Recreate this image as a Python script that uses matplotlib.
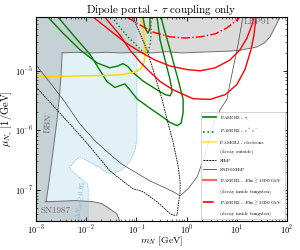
import numpy as np
import matplotlib
matplotlib.use('Agg')
import matplotlib.pyplot as plt
from matplotlib.lines import Line2D

plt.rcParams['font.family'] = 'serif'
plt.rcParams['font.serif'] = ['cmr10']
plt.rcParams['mathtext.fontset'] = 'cm'
plt.rcParams['axes.formatter.use_mathtext'] = True
plt.rcParams['axes.unicode_minus'] = False

# all contours as log10(m_N / GeV), log10(mu / GeV^-1)
lep_lx = [-3.0, -2.48, -2.2, -1.9, -1.6, -1.3, -1.0, -0.7, -0.4, -0.1, 0.2, 0.5, 0.86, 1.1, 1.4, 1.55, 1.66, 1.8, 1.85]
lep_ly = [-4.70, -4.70, -4.69, -4.70, -4.69, -4.70, -4.69, -4.70, -4.68, -4.70, -4.69, -4.68, -4.67, -4.65, -4.60, -4.53, -4.43, -4.20, -4.10]

bbn_lx = [-2.48, -2.50, -2.54, -2.58, -2.68, -2.76, -2.80]
bbn_ly = [-4.70, -5.07, -5.48, -5.82, -6.48, -6.98, -7.20]

sn_lx = [-2.82, -2.5, -2.2, -1.86, -1.69, -1.53, -1.39, -1.33]
sn_ly = [-7.20, -7.19, -7.18, -7.20, -7.23, -7.32, -7.40, -7.53]

neff_lx = [-0.99, -0.99, -1.03, -1.13, -1.27, -1.43, -1.57, -1.78, -1.96, -2.12, -2.18, -2.34, -2.22, -2.12, -1.98, -1.96, -1.96]
neff_ly = [-4.70, -6.15, -6.35, -6.52, -6.65, -6.72, -6.72, -6.60, -6.52, -6.45, -6.47, -6.63, -6.73, -6.80, -6.90, -6.98, -7.60]

# FASER2 - gamma (two contours)
ga_lx = [-2.76, -2.46, -2.12, -1.78, -1.53, -1.37, -1.27, -1.17, -1.07, -0.87, -0.63, -0.43, -0.33, -0.29, -0.33, -0.43, -0.53, -0.59]
ga_ly = [-4.10, -4.37, -4.65, -4.87, -4.95, -4.92, -4.88, -4.93, -5.03, -5.17, -5.30, -5.40, -5.42, -5.35, -5.15, -4.82, -4.48, -4.10]
gb_lx = [-2.56, -2.26, -1.92, -1.59, -1.43, -1.33, -1.23, -1.13, -0.99, -0.73, -0.47, -0.33, -0.19, -0.11, -0.07, -0.07, -0.17, -0.33, -0.47, -0.51]
gb_ly = [-4.10, -4.40, -4.73, -5.18, -5.28, -5.25, -5.22, -5.32, -5.47, -5.63, -5.78, -5.87, -5.92, -5.88, -5.70, -5.48, -5.15, -4.65, -4.23, -4.10]
gc_lx = [-0.87, -0.83, -0.77, -0.73, -0.73]
gc_ly = [-4.10, -4.28, -4.37, -4.28, -4.10]
# FASER2 - e+e-
ee_lx = [-1.49, -1.33, -1.17, -0.99, -0.87, -0.77, -0.73, -0.71, -0.71]
ee_ly = [-4.10, -4.27, -4.43, -4.58, -4.68, -4.68, -4.57, -4.40, -4.10]
# FASER2 - electrons
el_lx = [-3.0, -1.73, -1.33, -1.07, -0.93, -0.85, -0.83, -0.85, -0.89, -0.91]
el_ly = [-5.10, -5.08, -5.07, -5.03, -4.98, -4.87, -4.65, -4.40, -4.18, -4.10]

# SHiP and SND@SHiP
ship_lx = [-3.0, -2.72, -2.32, -1.92, -1.53, -1.23, -1.07, -0.87, -0.59, -0.33, -0.23, -0.19, -0.17, -0.13, -0.13, -0.17, -0.27, -0.39, -0.49, -0.67, -0.79, -1.07]
ship_ly = [-5.27, -5.53, -5.90, -6.28, -6.68, -6.88, -6.98, -7.03, -7.20, -7.40, -7.43, -7.42, -7.27, -7.03, -6.87, -6.60, -6.20, -5.82, -5.48, -4.98, -4.65, -4.10]
snd_lx = [-3.0, -2.72, -2.42, -2.12, -1.82, -1.53, -1.29, -1.07, -0.73, -0.47, -0.27, -0.13, 0.03, 0.21, 0.37, 0.53, 0.67, 0.80, 0.92, 1.02, 1.12]
snd_ly = [-4.90, -5.20, -5.53, -5.90, -6.18, -6.40, -6.57, -6.68, -6.85, -6.95, -7.03, -7.10, -6.98, -6.78, -6.40, -5.90, -5.65, -5.48, -4.98, -4.57, -4.10]

# FASER2 - E_kin >= 1000 GeV (two contours) and >= 3000 GeV
r1_lx = [-1.86, -1.53, -1.23, -0.93, -0.63, -0.33, 0.01, 0.27, 0.57, 0.86, 1.06, 1.20, 1.30, 1.34]
r1_ly = [-4.10, -4.32, -4.52, -4.68, -4.82, -4.92, -4.98, -5.00, -4.95, -4.82, -4.65, -4.45, -4.23, -4.10]
r2_lx = [-1.63, -1.33, -1.13, -0.93, -0.73, -0.53, -0.27, 0.13, 0.47, 0.77, 1.00, 1.16, 1.28, 1.34, 1.38]
r2_ly = [-4.10, -4.40, -4.65, -4.85, -5.02, -5.18, -5.32, -5.47, -5.48, -5.40, -5.23, -4.98, -4.65, -4.40, -4.10]
r3_lx = [-1.19, -0.93, -0.67, -0.33, -0.03, 0.27, 0.57, 0.80, 1.00, 1.06]
r3_ly = [-4.10, -4.23, -4.35, -4.43, -4.45, -4.43, -4.38, -4.28, -4.15, -4.10]


def p(lx, ly):
    return 10**np.array(lx, dtype=float), 10**np.array(ly, dtype=float)


fig = plt.figure(figsize=(3.0, 2.5), dpi=100)
ax = fig.add_axes([0.12, 0.116, 0.837, 0.816])
ax.set_xscale('log')
ax.set_yscale('log')

grey = '#707070'

# Delta N_eff region
x, y = p(neff_lx, neff_ly)
ax.fill(np.r_[1e-3, x, 1e-3], np.r_[1e-4, 1e-4, y[1:], 1e-8], color='lightblue', alpha=0.35, lw=0)
ax.plot(x, y, ls='--', color='skyblue', lw=0.6, dashes=(2, 1))

# LEP91
x, y = p(lep_lx, lep_ly)
ax.fill(np.r_[x, 1e2, 1e-3], np.r_[y, 1e-4, 1e-4], color='grey', alpha=0.28, lw=0)
ax.plot(x[1:], y[1:], color=grey, lw=0.7)

# BBN
x, y = p(bbn_lx, bbn_ly)
ax.fill(np.r_[1e-3, x, 1e-3], np.r_[y[0], y, y[-1]], color='grey', alpha=0.28, lw=0)
ax.plot(x, y, color=grey, lw=0.7)

# SN1987
x, y = p(sn_lx, sn_ly)
ax.fill(np.r_[1e-3, x, 1e-3], np.r_[y[0], y, 1e-8], color='grey', alpha=0.28, lw=0)
ax.plot(x, y, color=grey, lw=0.7)

ax.text(10**-2.76, 10**-5.88, 'BBN', color=grey, fontsize=6.5, rotation=85, ha='center', va='center')
ax.text(10**-2.62, 10**-7.35, 'SN1987', color=grey, fontsize=6.5, ha='center', va='center')
ax.text(10**1.40, 10**-4.18, 'LEP91', color=grey, fontsize=6.5, ha='center', va='center')
ax.text(10**-2.10, 10**-7.17, r'$\Delta N_{\rm eff}\geq 0.05$', color='#7fb6dc', fontsize=5, rotation=82,
        ha='center', va='center', zorder=5)

gcol = 'green'
ax.plot(*p(ga_lx, ga_ly), color=gcol, lw=1.0)
ax.plot(*p(gb_lx, gb_ly), color=gcol, lw=1.0)
ax.plot(*p(gc_lx, gc_ly), color=gcol, lw=1.0)
ax.plot(*p(ee_lx, ee_ly), color='green', lw=1.0, ls=':')
ax.plot(*p(el_lx, el_ly), color='gold', lw=1.1)
ax.plot(*p(ship_lx, ship_ly), color='black', lw=0.6, ls='--', dashes=(2, 1))
ax.plot(*p(snd_lx, snd_ly), color='#444444', lw=0.5)
ax.plot(*p(r1_lx, r1_ly), color='red', lw=1.0)
ax.plot(*p(r2_lx, r2_ly), color='red', lw=1.0)
ax.plot(*p(r3_lx, r3_ly), color='red', lw=1.0, ls='-.')

ax.set_xlim(1e-3, 1e2)
ax.set_ylim(3e-8, 8e-5)
ax.tick_params(which='both', direction='in', top=True, right=True, labelsize=6, pad=2)
ax.tick_params(which='major', length=3, width=0.6)
ax.tick_params(which='minor', length=1.5, width=0.4)
for s in ax.spines.values():
    s.set_linewidth(0.8)

ax.set_xlabel(r'$m_N$ [GeV]', fontsize=7, labelpad=-1.5)
ax.set_ylabel(r'$\mu_{N_\tau}$ [1/GeV]', fontsize=7.5, labelpad=0)
ax.set_title(r'Dipole portal - $\tau$ coupling only', fontsize=8, pad=3)

blank = Line2D([], [], color='none')
handles = [Line2D([], [], color='green', lw=1.2),
           Line2D([], [], color='green', lw=1.2, ls=':'),
           Line2D([], [], color='gold', lw=1.6, alpha=0.6),
           blank,
           Line2D([], [], color='black', lw=0.7, ls='--', dashes=(2, 1)),
           Line2D([], [], color='#444444', lw=0.6),
           Line2D([], [], color='red', lw=1.6, alpha=0.6),
           blank,
           Line2D([], [], color='red', lw=1.2, ls='-.'),
           blank]
labels = [r'FASER2 - $\gamma$', r'FASER2 - $e^+e^-$', 'FASER2 - electrons', '(decay outside)',
          'SHiP', 'SND@SHiP', r'FASER2 - $E_{\rm kin}\geq 1000$ GeV', '(decay inside tungsten)',
          r'FASER2 - $E_{\rm kin}\geq 3000$ GeV', '(decay inside tungsten)']
leg = ax.legend(handles, labels, loc='lower right', fontsize=3.6, handlelength=2.6,
                labelspacing=0.85, borderpad=0.5, handletextpad=0.7, framealpha=0.85,
                edgecolor='#bbbbbb', fancybox=False)
leg.get_frame().set_linewidth(0.5)

fig.savefig('out.png', dpi=100)
